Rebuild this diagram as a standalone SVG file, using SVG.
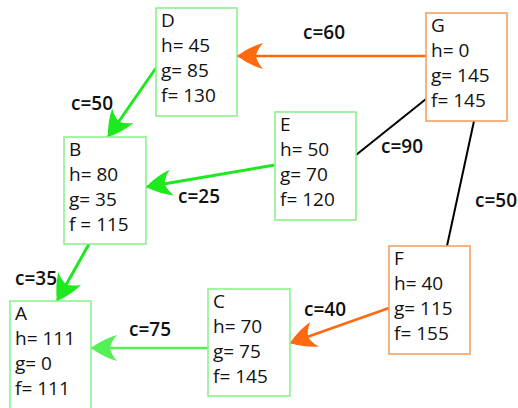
<svg xmlns="http://www.w3.org/2000/svg" width="518" height="408" viewBox="0 0 518 408">
<style>
text{font-family:"Open Sans","Noto Sans","Liberation Sans",sans-serif;font-size:19px;fill:#111}
.lbl{font-weight:600}
.gbox{fill:#fff;stroke:#8ef08e;stroke-width:1.6}
.obox{fill:#fff;stroke:#f3a162;stroke-width:1.6}
.eg{stroke:#1ee81e;stroke-width:3;fill:none}
.eo{stroke:#ff6a10;stroke-width:2.6;fill:none}
.el{stroke:#55f055;stroke-width:2.6;fill:none}
.ek{stroke:#000;stroke-width:2;fill:none}
</style>
<defs>
<marker id="ag" viewBox="-30 -16 32 32" refX="0" refY="0" markerWidth="32" markerHeight="32" markerUnits="userSpaceOnUse" orient="auto"><path d="M0,0 Q-12,-9 -26,-13 Q-20,-6 -19,0 Q-20,6 -26,13 Q-12,9 0,0 Z" fill="#1ee81e"/></marker>
<marker id="ao" viewBox="-30 -16 32 32" refX="0" refY="0" markerWidth="32" markerHeight="32" markerUnits="userSpaceOnUse" orient="auto"><path d="M0,0 Q-12,-9 -26,-13 Q-20,-6 -19,0 Q-20,6 -26,13 Q-12,9 0,0 Z" fill="#ff6a10"/></marker>
<marker id="al" viewBox="-30 -16 32 32" refX="0" refY="0" markerWidth="32" markerHeight="32" markerUnits="userSpaceOnUse" orient="auto"><path d="M0,0 Q-12,-9 -26,-13 Q-20,-6 -19,0 Q-20,6 -26,13 Q-12,9 0,0 Z" fill="#55f055"/></marker>
</defs>
<g id="connectors">
<line class="eo" x1="426" y1="56" x2="237" y2="56" marker-end="url(#ao)"/>
<line class="eg" x1="156" y1="68" x2="108" y2="137" marker-end="url(#ag)"/>
<line class="eg" x1="275" y1="165" x2="146" y2="187" marker-end="url(#ag)"/>
<line class="ek" x1="426" y1="99" x2="356" y2="155"/>
<line class="ek" x1="474" y1="121" x2="447" y2="246"/>
<line class="eg" x1="89" y1="244" x2="57" y2="301" marker-end="url(#ag)"/>
<line class="el" x1="208" y1="348" x2="91" y2="348" marker-end="url(#al)"/>
<line class="eo" x1="389" y1="308" x2="290" y2="343" marker-end="url(#ao)"/>
<text class="lbl" x="303" y="39">c=60</text>
<text class="lbl" x="71" y="110">c=50</text>
<text class="lbl" x="178" y="203">c=25</text>
<text class="lbl" x="381" y="153">c=90</text>
<text class="lbl" x="475" y="207">c=50</text>
<text class="lbl" x="15" y="285">c=35</text>
<text class="lbl" x="129" y="336">c=75</text>
<text class="lbl" x="304" y="316">c=40</text>
</g>
<g id="D"><rect class="gbox" x="156" y="8" width="81" height="108"/><text x="161" y="27">D</text><text x="161" y="52">h= 45</text><text x="161" y="77">g= 85</text><text x="161" y="102">f= 130</text></g>
<g id="G"><rect class="obox" x="426" y="13" width="81" height="108"/><text x="431" y="32">G</text><text x="431" y="57">h= 0</text><text x="431" y="82">g= 145</text><text x="431" y="107">f= 145</text></g>
<g id="E"><rect class="gbox" x="275" y="112" width="81" height="108"/><text x="280" y="131">E</text><text x="280" y="156">h= 50</text><text x="280" y="181">g= 70</text><text x="280" y="206">f= 120</text></g>
<g id="B"><rect class="gbox" x="64" y="137" width="82" height="107"/><text x="69" y="156">B</text><text x="69" y="181">h= 80</text><text x="69" y="206">g= 35</text><text x="69" y="231">f = 115</text></g>
<g id="F"><rect class="obox" x="389" y="246" width="81" height="108"/><text x="394" y="265">F</text><text x="394" y="290">h= 40</text><text x="394" y="315">g= 115</text><text x="394" y="340">f= 155</text></g>
<g id="C"><rect class="gbox" x="208" y="289" width="82" height="107"/><text x="213" y="308">C</text><text x="213" y="333">h= 70</text><text x="213" y="358">g= 75</text><text x="213" y="383">f= 145</text></g>
<g id="A"><rect class="gbox" x="10" y="301" width="81" height="110"/><text x="15" y="320">A</text><text x="15" y="345">h= 111</text><text x="15" y="370">g= 0</text><text x="15" y="395">f= 111</text></g>
</svg>
